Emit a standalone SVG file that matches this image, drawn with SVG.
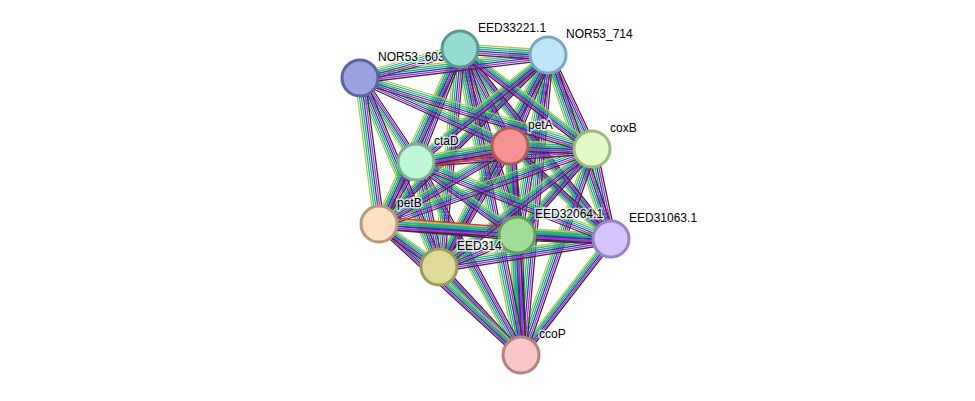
<svg xmlns="http://www.w3.org/2000/svg" xmlns:xlink="http://www.w3.org/1999/xlink" width="975" height="401" viewBox="0 0 975 401">
<style>
.n{stroke-width:3}
.t{font-family:"Liberation Sans",Arial,sans-serif;font-size:12px;fill:#000;paint-order:stroke;stroke:#fff;stroke-width:3px;stroke-opacity:0.7}
</style>
<defs>
<path id="V" fill="none" stroke-width="1.3" d="M360,78L379,224M360,78L439,267M360,78L416,162
M460,49L510,146M460,49L416,162M460,49L379,224M460,49L517,235M460,49L611,239M460,49L439,267M460,49L521,355
M548,55L510,146M548,55L592,149M548,55L379,224M548,55L517,235M548,55L611,239M548,55L439,267M548,55L521,355
M510,146L517,235M510,146L611,239M510,146L439,267M510,146L521,355
M592,149L517,235M592,149L611,239M592,149L521,355
M416,162L379,224M416,162L439,267M416,162L521,355
M517,235L521,355M611,239L521,355M439,267L521,355"/>
<path id="H" fill="none" stroke-width="1.3" d="M360,78L460,49M360,78L548,55M360,78L510,146M360,78L592,149
M460,49L548,55M460,49L592,149M548,55L416,162M510,146L592,149M510,146L416,162M510,146L379,224
M592,149L416,162M592,149L379,224M592,149L439,267M416,162L517,235M416,162L611,239
M379,224L517,235M379,224L611,239M379,224L439,267M379,224L521,355
M517,235L611,239M517,235L439,267M611,239L439,267"/>
</defs>
<rect width="975" height="401" fill="#fff"/>
<g id="connectors">
<use xlink:href="#V" stroke="#b5cf2a" transform="translate(-5,0)"/>
<use xlink:href="#V" stroke="#22aad8" transform="translate(-3,0)"/>
<use xlink:href="#V" stroke="#22bb22" transform="translate(-1,0)"/>
<use xlink:href="#V" stroke="#2233ee" transform="translate(1,0)"/>
<use xlink:href="#V" stroke="#d020d0" transform="translate(3,0)"/>
<use xlink:href="#V" stroke="#333" transform="translate(5,0)"/>
<use xlink:href="#H" stroke="#b5cf2a" transform="translate(0,-5)"/>
<use xlink:href="#H" stroke="#22aad8" transform="translate(0,-3)"/>
<use xlink:href="#H" stroke="#22bb22" transform="translate(0,-1)"/>
<use xlink:href="#H" stroke="#2233ee" transform="translate(0,1)"/>
<use xlink:href="#H" stroke="#d020d0" transform="translate(0,3)"/>
<use xlink:href="#H" stroke="#333" transform="translate(0,5)"/>
<path d="M416,162L510,146" stroke="#f22" stroke-width="1.3" transform="translate(0,7)"/>
<path d="M379,224L517,235" stroke="#f22" stroke-width="1.3" transform="translate(0,-7)"/>
</g>
<g id="NOR53_603"><circle class="n" cx="360" cy="78" r="18" fill="#9aa3e0" stroke="#5a64a0"/><text class="t" x="378" y="61">NOR53_603</text></g>
<g id="EED33221.1"><circle class="n" cx="460" cy="49" r="18" fill="#92dcd2" stroke="#5a9a92"/><text class="t" x="478" y="32">EED33221.1</text></g>
<g id="NOR53_714"><circle class="n" cx="548" cy="55" r="18" fill="#bde6f8" stroke="#7aa8c0"/><text class="t" x="566" y="38">NOR53_714</text></g>
<g id="petA"><circle class="n" cx="510" cy="146" r="18" fill="#f59393" stroke="#b05a5a"/><text class="t" x="528" y="129">petA</text></g>
<g id="coxB"><circle class="n" cx="592" cy="149" r="18" fill="#e2fac4" stroke="#9cba7c"/><text class="t" x="610" y="132">coxB</text></g>
<g id="ctaD"><circle class="n" cx="416" cy="162" r="18" fill="#bef7d6" stroke="#7cb092"/><text class="t" x="434" y="145">ctaD</text></g>
<g id="petB"><circle class="n" cx="379" cy="224" r="18" fill="#fddfc2" stroke="#b89a7a"/><text class="t" x="397" y="207">petB</text></g>
<g id="EED32064.1"><circle class="n" cx="517" cy="235" r="18" fill="#a0dd96" stroke="#64a05a"/><text class="t" x="535" y="218">EED32064.1</text></g>
<g id="EED31063.1"><circle class="n" cx="611" cy="239" r="18" fill="#d4c4fa" stroke="#9682c4"/><text class="t" x="629" y="222">EED31063.1</text></g>
<g id="EED314"><circle class="n" cx="439" cy="267" r="18" fill="#dedb98" stroke="#9e9a5a"/><text class="t" x="457" y="250">EED314</text></g>
<g id="ccoP"><circle class="n" cx="521" cy="355" r="18" fill="#f8c6c6" stroke="#b88080"/><text class="t" x="539" y="338">ccoP</text></g>
</svg>
